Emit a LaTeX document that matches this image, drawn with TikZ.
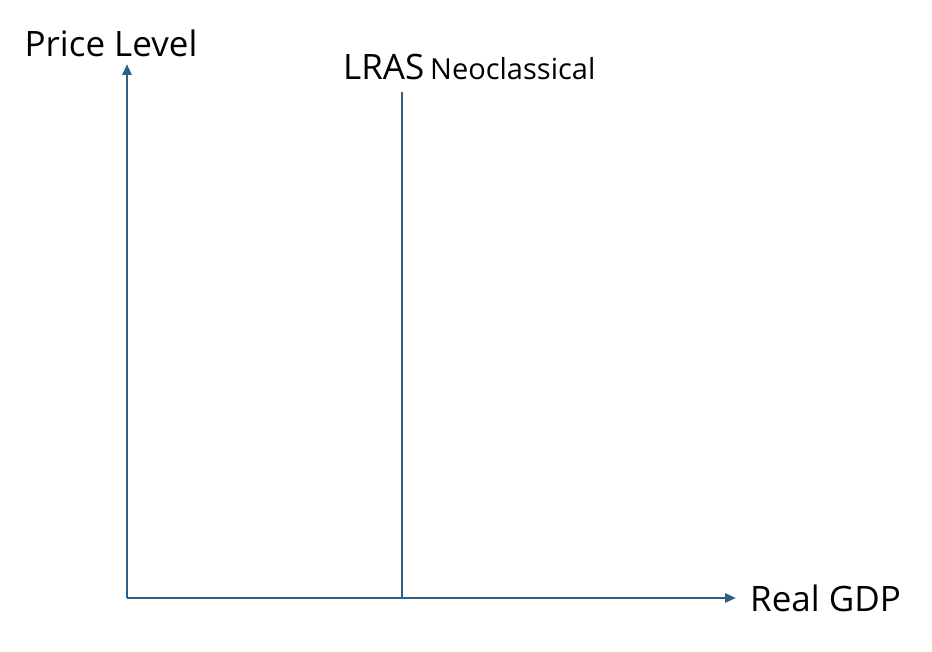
\documentclass[tikz,border=0pt]{standalone}
\usepackage{fontspec}
\setmainfont{Open Sans}
\usetikzlibrary{arrows.meta}
\definecolor{axisblue}{HTML}{2F5F82}

\begin{document}
\begin{tikzpicture}[x=1pt,y=1pt,line cap=butt,line join=miter,
  axis/.style={axisblue,line width=2.7pt},
  lab/.style={inner sep=0pt,text=black,font=\fontsize{35}{40}\selectfont}]
  \path[use as bounding box] (0,0) rectangle (932,652);
  \coordinate (O) at (127,54);
  \coordinate (Ytop) at (127,588);
  \coordinate (Xend) at (736,54);
  \coordinate (Ltop) at (402,560);
  \coordinate (Lbot) at (402,54);
  % axes
  \draw[axis,-{Triangle[length=11pt,width=9pt]}] (O)--(Ytop);
  \draw[axis,-{Triangle[length=11pt,width=9pt]}] (O)--(Xend);
  % long run supply
  \draw[axis] (Lbot)--(Ltop);
  \node[lab,anchor=base] (ylab) at (111,595) {Price Level};
  \node[lab,anchor=base west] (xlab) at (750,40) {Real GDP};
  \node[lab,anchor=base west] (lras) at (343,572) {LRAS\,\fontsize{29}{34}\selectfont Neoclassical};
\end{tikzpicture}
\end{document}
